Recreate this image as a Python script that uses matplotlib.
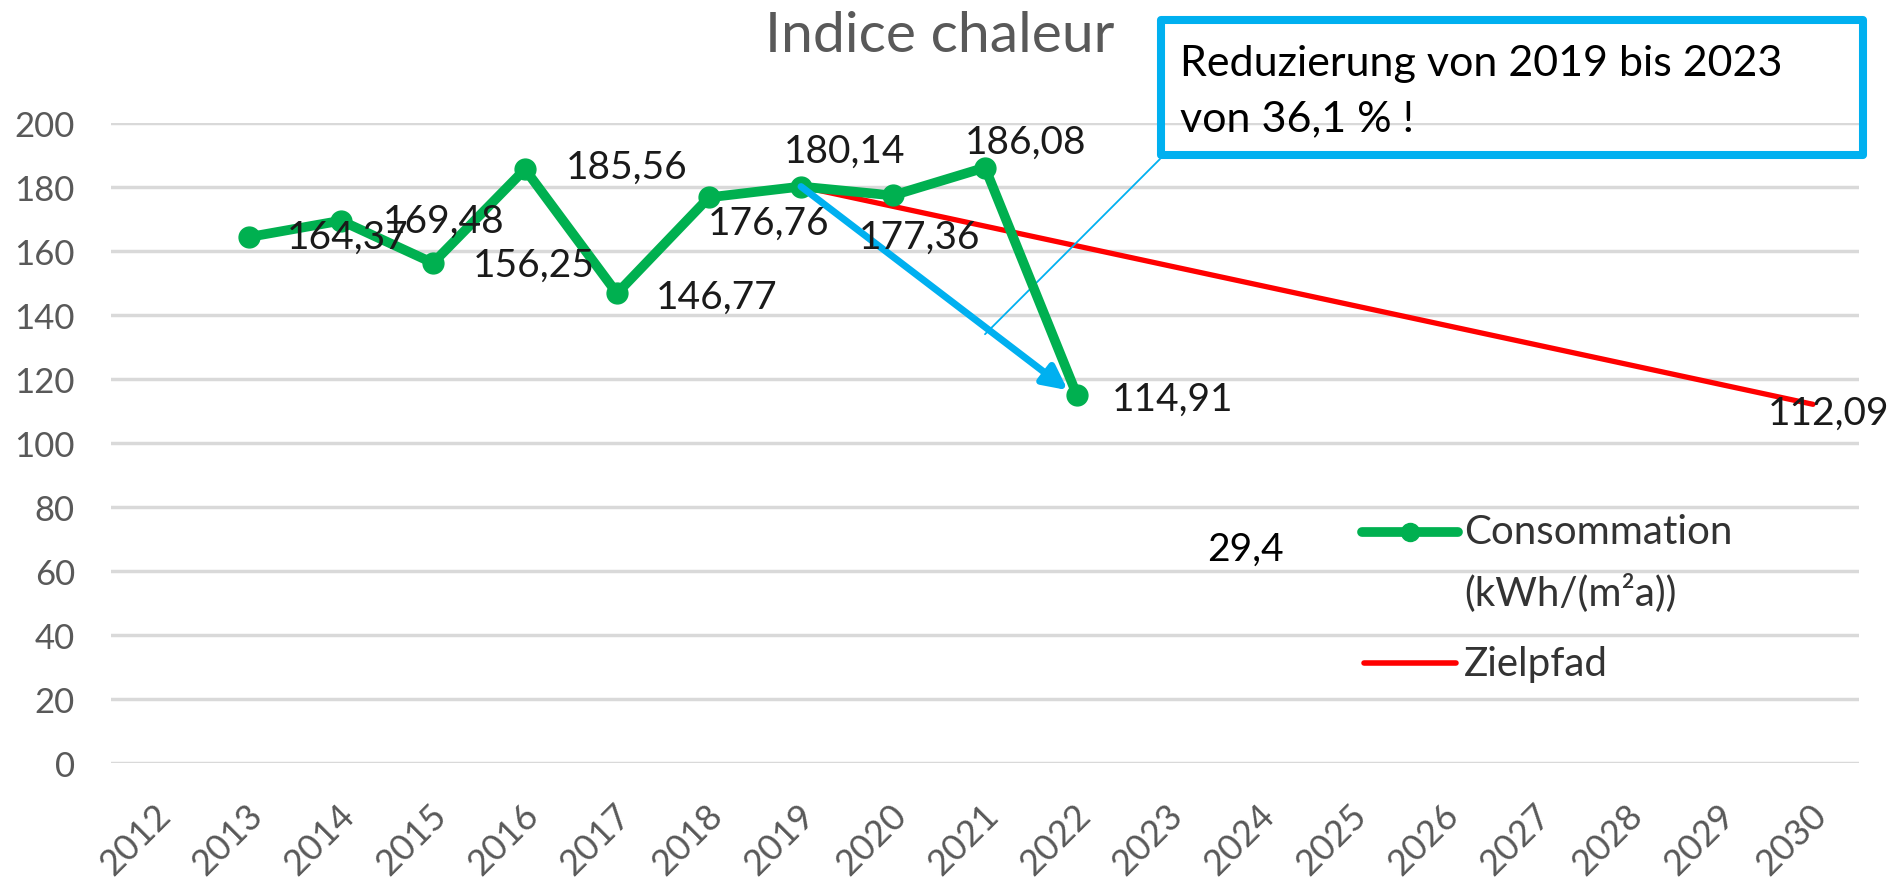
import matplotlib
matplotlib.use('Agg')
import matplotlib.pyplot as plt
import matplotlib.transforms as mtransforms
from matplotlib.patches import Rectangle
from matplotlib.lines import Line2D

plt.rcParams['font.family'] = ['Lato', 'DejaVu Sans']

# categories de l'axe x
annees = [str(a) for a in range(2012, 2031)]

# consommation (kWh/(m2a))
conso_annees = ['2013', '2014', '2015', '2016', '2017', '2018', '2019', '2020', '2021', '2022']
conso = [164.37, 169.48, 156.25, 185.56, 146.77, 176.76, 180.14, 177.36, 186.08, 114.91]

# Zielpfad
ziel_annees = ['2019', '2030']
ziel = [180.14, 112.09]

yticks = [0, 20, 40, 60, 80, 100, 120, 140, 160, 180, 200]

VERT = '#00B050'
ROUGE = '#FF0000'
BLEU = '#00B0F0'
GRIS = '#595959'

W, H = 1897, 879
fig = plt.figure(figsize=(W / 100, H / 100), dpi=100)
ax = fig.add_axes([111 / W, 1 - 764 / H, (1859 - 111) / W, (764 - 124) / H])

xc = [annees.index(a) for a in conso_annees]
xz = [annees.index(a) for a in ziel_annees]

ax.plot(xz, ziel, color=ROUGE, lw=3.8, solid_capstyle='round', zorder=3)
ax.plot(xc, conso, color=VERT, lw=7, marker='o', markersize=15, zorder=4)

ax.set_xlim(-0.5, 18.5)
ax.set_ylim(0, 200)
ax.set_yticks(yticks)
ax.set_xticks(range(len(annees)))
ax.set_xticklabels(annees, rotation=45, ha='right', va='center', rotation_mode='anchor')
ax.tick_params(axis='x', length=0, pad=33, labelsize=26, labelcolor=GRIS)
ax.tick_params(axis='y', length=0, pad=26, labelsize=25, labelcolor=GRIS)
decale = mtransforms.ScaledTranslation(8 / 100, 0, fig.dpi_scale_trans)
for lab in ax.get_xticklabels():
    lab.set_transform(lab.get_transform() + decale)
ax.yaxis.grid(True, color='#d9d9d9', lw=2.5)
ax.set_axisbelow(True)
for s in ax.spines.values():
    s.set_visible(False)

# etiquettes des points (decalages en pixels)
decal = [(99, 0), (103, 0), (101, 2), (102, -2), (100, 3), (60, 25),
         (44, -36), (27, 41), (41, -26), (96, 3)]
for x, v, (dx, dy) in zip(xc, conso, decal):
    ax.annotate(f'{v:.2f}'.replace('.', ','), (x, v), xytext=(dx, -dy),
                textcoords='offset pixels', ha='center', va='center',
                fontsize=28, color='#1a1a1a', zorder=6)
ax.annotate(f'{ziel[-1]:.2f}'.replace('.', ','), (xz[-1], ziel[-1]), xytext=(16, -8),
            textcoords='offset pixels', ha='center', va='center',
            fontsize=28, color='#1a1a1a', zorder=6)

# fleche bleue
ax.annotate('', xy=(9.9, 116.5), xytext=(xz[0], ziel[0]),
            arrowprops=dict(arrowstyle='-|>', color=BLEU, lw=5,
                            mutation_scale=36, shrinkA=0, shrinkB=0), zorder=5)

# bulle
ax.annotate('', xy=(9.0, 134), xycoords='data',
            xytext=(1160 / W, 1 - 160 / H), textcoords='figure fraction',
            arrowprops=dict(arrowstyle='-', color=BLEU, lw=1.3, shrinkA=0, shrinkB=0))
fig.add_artist(Rectangle((1161 / W, 1 - 156 / H), (1863 - 1161) / W, (156 - 21) / H,
                         transform=fig.transFigure, fc='none', ec=BLEU, lw=5.8,
                         joinstyle='round'))
fig.text(1180 / W, 1 - 76 / H, 'Reduzierung von 2019 bis 2023', fontsize=31,
         va='baseline', color='black')
fig.text(1180 / W, 1 - 131 / H, 'von 36,1 % !', fontsize=31, va='baseline', color='black')

# titre
fig.text(940 / W, 1 - 52 / H, 'Indice chaleur', fontsize=41, ha='center',
         va='baseline', color=GRIS)

fig.text(1245 / W, 1 - 550 / H, '29,4', fontsize=28, ha='center', va='center', color='black')

# legende
fig.add_artist(Line2D([1362 / W, 1458 / W], [1 - 533 / H] * 2, color=VERT, lw=7,
                      solid_capstyle='round'))
fig.add_artist(Line2D([1410 / W], [1 - 533 / H], color=VERT, marker='o', markersize=13))
fig.text(1464 / W, 1 - 532 / H, 'Consommation', fontsize=29, va='center', color='#333333')
fig.text(1464 / W, 1 - 593 / H, '(kWh/(m²a))', fontsize=29, va='center', color='#333333')
fig.add_artist(Line2D([1364 / W, 1456 / W], [1 - 664 / H] * 2, color=ROUGE, lw=4,
                      solid_capstyle='round'))
fig.text(1464 / W, 1 - 665 / H, 'Zielpfad', fontsize=29, va='center', color='#333333')

fig.savefig('out.png', dpi=100)
